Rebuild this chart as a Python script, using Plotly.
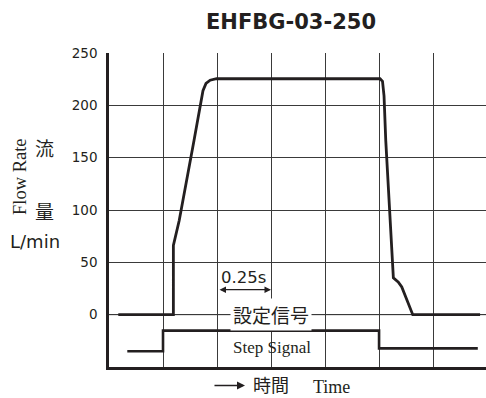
import plotly.graph_objects as go

# Flow rate response (time s, flow L/min)
flow_t = [0.043, 0.298, 0.298, 0.325, 0.3935, 0.435, 0.449, 0.468, 0.498,
          1.2546, 1.266, 1.273, 1.281, 1.3056, 1.3162, 1.3394, 1.3551, 1.406, 1.7176]
flow_v = [0, 0, 66.2, 90, 166.5, 214, 221, 224, 225.4,
          225.4, 223, 209, 166.5, 71, 35.3, 31.1, 26.4, 0, 0]

# Step signal (schematic level)
step_t = [0.0847, 0.25, 0.25, 1.25, 1.25, 1.707]
step_v = [-35, -35, -15.2, -15.2, -32.2, -32.2]

y_ticks = [0, 50, 100, 150, 200, 250]
x_grid = [0, 0.25, 0.5, 0.75, 1.0, 1.25, 1.5, 1.75]
x_range = [0, 1.745]

INK = "#231f20"
GRID = "#3a3a3a"

fig = go.Figure()
# zero grid line, drawn first so it sits under the data traces
fig.add_trace(go.Scatter(x=x_range, y=[0, 0], mode="lines",
                         line=dict(color=GRID, width=1), hoverinfo="skip"))
fig.add_trace(go.Scatter(x=flow_t, y=flow_v, mode="lines",
                         line=dict(color=INK, width=2.8), hoverinfo="skip"))
fig.add_trace(go.Scatter(x=step_t, y=step_v, mode="lines",
                         line=dict(color=INK, width=2.6), hoverinfo="skip"))


def ptext(x, y, text, family, size, angle=0):
    return dict(x=x, y=y, xref="paper", yref="paper", text=text, showarrow=False,
                textangle=angle, font=dict(family=family, size=size, color=INK),
                xanchor="center", yanchor="middle")


ann = [
    ptext(0.4828, 1.0997, "<b>EHFBG-03-250</b>", "DejaVu Sans", 21),
    ptext(-0.2361, 0.6083, "Flow Rate", "Liberation Serif", 18.5, -90),
    ptext(-0.1698, 0.7006, "流", "Noto Sans CJK JP", 19),
    ptext(-0.1698, 0.5, "量", "Noto Sans CJK JP", 19),
    ptext(-0.1963, 0.3981, "L/min", "DejaVu Sans", 18),
    ptext(0.4284, -0.0557, "時間", "Noto Sans CJK JP", 18),
    ptext(0.5902, -0.0640, "Time", "Liberation Serif", 18),
    dict(x=0.3607, y=-0.0590, xref="paper", yref="paper", ax=-32, ay=0,
         text="", showarrow=True, arrowhead=2, arrowsize=1,
         arrowwidth=1.6, arrowcolor=INK, standoff=0),
    dict(x=0.6204, y=35.1, text="0.25s", showarrow=False,
         font=dict(family="DejaVu Sans", size=16.5, color=INK),
         xanchor="center", yanchor="middle"),
    dict(x=0.75, y=23.9, ax=0.5046, ay=23.9, axref="x", ayref="y",
         text="", showarrow=True, arrowside="end+start",
         arrowhead=2, startarrowhead=2, arrowsize=1, startarrowsize=1,
         arrowwidth=1.3, arrowcolor=INK, standoff=0, startstandoff=0),
    dict(x=0.75, y=0.3, text="設定信号", showarrow=False,
         font=dict(family="Noto Sans CJK JP", size=19, color=INK),
         bgcolor="white", borderpad=2, xanchor="center", yanchor="middle"),
    dict(x=0.753, y=-31, text="Step Signal", showarrow=False,
         font=dict(family="Liberation Serif", size=17, color=INK),
         xanchor="center", yanchor="middle"),
]

fig.update_layout(
    width=486, height=398,
    margin=dict(l=109, r=0, t=53, b=31),
    paper_bgcolor="white", plot_bgcolor="white",
    showlegend=False,
    annotations=ann,
    xaxis=dict(range=x_range, tickvals=x_grid, showticklabels=False,
               showgrid=True, gridcolor=GRID, gridwidth=1, zeroline=False,
               showline=True, linecolor=INK, linewidth=2.5, ticks=""),
    yaxis=dict(range=[-50, 250], tickvals=y_ticks, showgrid=True,
               gridcolor=GRID, gridwidth=1, zeroline=False,
               showline=True, linecolor=INK, linewidth=2.5, ticks="",
               ticklabelstandoff=6,
               tickfont=dict(family="DejaVu Sans", size=13.5, color=INK)),
)

fig.write_html("out.html")
